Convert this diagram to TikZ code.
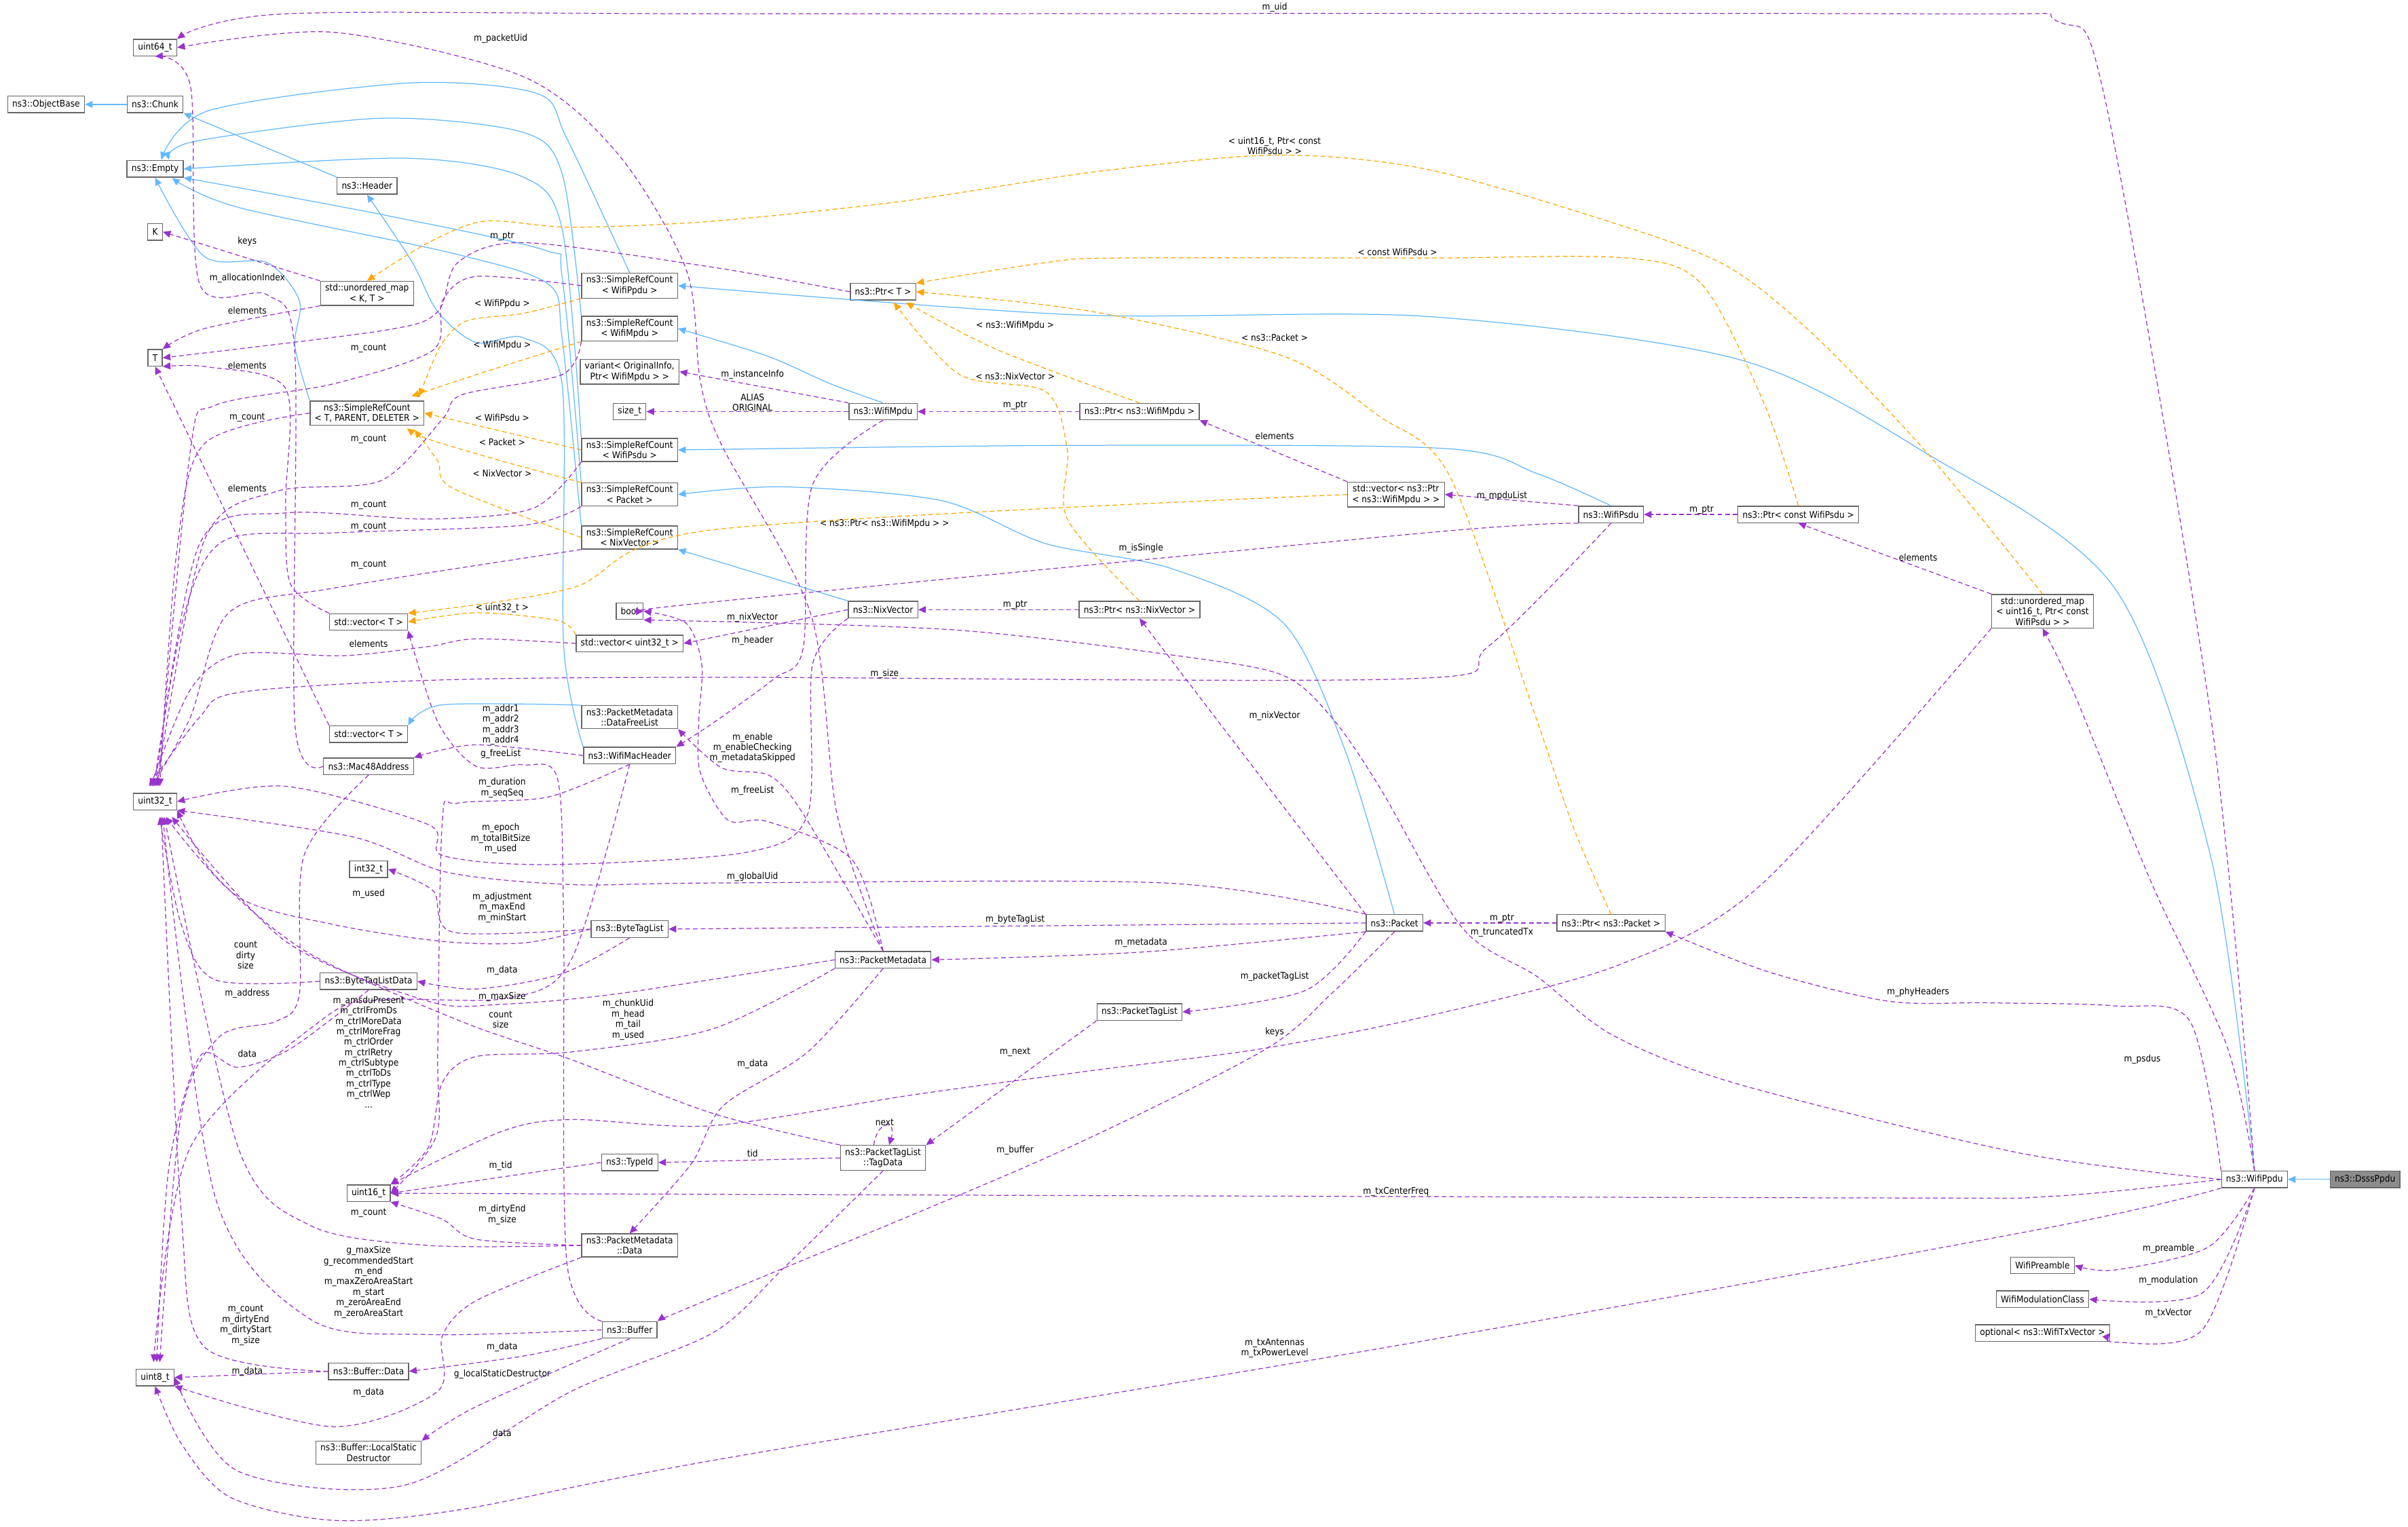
\documentclass[tikz,border=0pt]{standalone}
\usepackage{fontspec}
\setmainfont{DejaVu Sans Condensed}
\usetikzlibrary{arrows.meta}
\definecolor{purp}{HTML}{9A32CD}
\definecolor{inhb}{HTML}{63B8FF}
\definecolor{tplo}{HTML}{FFA500}
\tikzset{
 box/.style={draw=black!60,fill=white,line width=0.6pt,font=\fontsize{6}{6.8}\selectfont,align=center,inner xsep=3pt,inner ysep=1.8pt,minimum height=10.8pt},
 lbl/.style={font=\fontsize{6}{6.8}\selectfont,align=center,inner sep=0pt},
 tip/.style={-{Triangle[length=5pt,width=4.5pt]}},
 mem/.style={tip,draw=purp,dashed,dash pattern=on 3pt off 2pt,line width=0.55pt},
 tpl/.style={tip,draw=tplo,dashed,dash pattern=on 3pt off 2pt,line width=0.55pt},
 inh/.style={tip,draw=inhb,line width=0.55pt},
}
\begin{document}
\begin{tikzpicture}[x=1pt,y=-1pt]
\useasboundingbox (0,0) rectangle (1568,994);
% nodes
\node[box] (u64) at (101,31) {uint64\_t};
\node[box] (objb) at (30,68) {ns3::ObjectBase};
\node[box] (chunk) at (101,68) {ns3::Chunk};
\node[box] (empty) at (101,110) {ns3::Empty};
\node[box] (header) at (239,121) {ns3::Header};
\node[box] (K) at (101,151) {K};
\node[box] (umapkt) at (239,191) {std::unordered\_map\\< K, T >};
\node[box] (T) at (101,233) {T};
\node[box] (srct) at (239,269) {ns3::SimpleRefCount\\< T, PARENT, DELETER >};
\node[box] (srcppdu) at (410,186) {ns3::SimpleRefCount\\< WifiPpdu >};
\node[box] (srcmpdu) at (410,214) {ns3::SimpleRefCount\\< WifiMpdu >};
\node[box] (variant) at (410,242) {variant< OriginalInfo,\\Ptr< WifiMpdu > >};
\node[box] (sizet) at (410,268) {size\_t};
\node[box] (srcpsdu) at (410,293) {ns3::SimpleRefCount\\< WifiPsdu >};
\node[box] (srcpkt) at (410,322) {ns3::SimpleRefCount\\< Packet >};
\node[box] (srcnix) at (410,350) {ns3::SimpleRefCount\\< NixVector >};
\node[box] (bool) at (410,398) {bool};
\node[box] (vecup) at (240,405) {std::vector< T >};
\node[box] (vec32) at (410,419) {std::vector< uint32\_t >};
\node[box] (dfl) at (410,467) {ns3::PacketMetadata\\::DataFreeList};
\node[box] (veclo) at (240,478) {std::vector< T >};
\node[box] (mac) at (240,499) {ns3::Mac48Address};
\node[box] (wmac) at (410,492) {ns3::WifiMacHeader};
\node[box] (u32) at (101,522) {uint32\_t};
\node[box] (i32) at (240,566) {int32\_t};
\node[box] (btl) at (410,605) {ns3::ByteTagList};
\node[box] (btld) at (240,639) {ns3::ByteTagListData};
\node[box] (tid) at (410,757) {ns3::TypeId};
\node[box] (u16) at (240,777) {uint16\_t};
\node[box] (pmdata) at (410,811) {ns3::PacketMetadata\\::Data};
\node[box] (buf) at (410,866) {ns3::Buffer};
\node[box] (bdata) at (240,893) {ns3::Buffer::Data};
\node[box] (u8) at (101,897) {uint8\_t};
\node[box] (lsd) at (240,946) {ns3::Buffer::LocalStatic\\Destructor};
\node[box] (ptrt) at (575,190) {ns3::Ptr< T >};
\node[box] (wmpdu) at (575,268) {ns3::WifiMpdu};
\node[box] (ptrmpdu) at (742,268) {ns3::Ptr< ns3::WifiMpdu >};
\node[box] (vecptr) at (909,322) {std::vector< ns3::Ptr\\< ns3::WifiMpdu > >};
\node[box] (wpsdu) at (1049,335) {ns3::WifiPsdu};
\node[box] (ptrpsdu) at (1171,335) {ns3::Ptr< const WifiPsdu >};
\node[box] (umap16) at (1330,398) {std::unordered\_map\\< uint16\_t, Ptr< const\\WifiPsdu > >};
\node[box] (nix) at (575,397) {ns3::NixVector};
\node[box] (ptrnix) at (742,397) {ns3::Ptr< ns3::NixVector >};
\node[box] (pmeta) at (575,625) {ns3::PacketMetadata};
\node[box] (pkt) at (908,601) {ns3::Packet};
\node[box] (ptrpkt) at (1049,601) {ns3::Ptr< ns3::Packet >};
\node[box] (ptl) at (742,659) {ns3::PacketTagList};
\node[box] (tagd) at (575,754) {ns3::PacketTagList\\::TagData};
\node[box] (wppdu) at (1468,768) {ns3::WifiPpdu};
\node[box,fill=black!45] (dsss) at (1540,768) {ns3::DsssPpdu};
\node[box] (wpre) at (1330,824) {WifiPreamble};
\node[box] (wmod) at (1330,846) {WifiModulationClass};
\node[box] (wopt) at (1330,868) {optional< ns3::WifiTxVector >};
% inheritance
\draw[inh] (chunk) -- (objb);
\draw[inh] (header.north west) -- (chunk.south east);
\draw[inh] plot[smooth] coordinates {(srct.north west) (192,225) (195,196) (174,171) (133,167) (empty.south)};
\draw[inh] plot[smooth] coordinates {(srcppdu.north) (369,90) (350,61) (267,54) (136,72) (105,104)};
\draw[inh] plot[smooth] coordinates {(srcmpdu.north west) (366,113) (340,86) (248,77) (127,92) (110,104)};
\draw[inh] plot[smooth] coordinates {(srcpsdu.north west) (366,149) (340,115) (264,103) (empty.east)};
\draw[inh] plot[smooth] coordinates {(srcpkt.north west) (366,180) (355,163) (250,140) (empty.south east)};
\draw[inh] plot[smooth] coordinates {(srcnix.north west) (366,220) (357,185) (295,165) (155,135) (112,116)};
\draw[inh] plot[smooth] coordinates {(wmac.north west) (367,420) (366,250) (341,220) (310,223) (285,203) (268,170) (header.south)};
\draw[inh] plot[smooth] coordinates {(dfl.north west) (288,459) (veclo.north east)};
\draw[inh] plot[smooth] coordinates {(wppdu.north) (1440,560) (1377,383) (1254,295) (1132,234) (928,206) (700,205) (srcppdu.east)};
\draw[inh] plot[smooth] coordinates {(wmpdu.north) (541,250) (500,232) (srcmpdu.east)};
\draw[inh] plot[smooth] coordinates {(wpsdu.north) (1000,308) (940,292) (700,290) (srcpsdu.east)};
\draw[inh] plot[smooth] coordinates {(pkt.north) (876,489) (836,406) (762,370) (681,354) (613,326) (510,317) (srcpkt.east)};
\draw[inh] (nix.north west) -- (srcnix.south east);
\draw[inh] (dsss) -- (wppdu);
% templates
\draw[tpl] plot[smooth] coordinates {(srcppdu.south west) (341,204) (304,209) (287,225) (273,258)};
\draw[tpl] plot[smooth] coordinates {(srcmpdu.south west) (310,244) (268,258)};
\draw[tpl] plot[smooth] coordinates {(srcpsdu.west) (srct.east)};
\draw[tpl] plot[smooth] coordinates {(srcpkt.north west) (326,300) (279,286) (265,279)};
\draw[tpl] plot[smooth] coordinates {(srcnix.west) (295,318) (285,300) (270,280)};
\draw[tpl] plot[smooth] coordinates {(ptrpsdu.north) (1148,261) (1108,185) (1059,168) (928,168) (728,168) (681,171) (ptrt.north east)};
\draw[tpl] plot[smooth] coordinates {(ptrmpdu.north) (650,228) (590,197)};
\draw[tpl] plot[smooth] coordinates {(ptrnix.north) (695,338) (695,293) (681,255) (625,244) (582,197)};
\draw[tpl] plot[smooth] coordinates {(ptrpkt.north) (1025,540) (999,464) (944,310) (898,271) (836,232) (712,203) (ptrt.east)};
\draw[tpl] plot[smooth] coordinates {(umap16.north) (1254,294) (1181,218) (1124,173) (1050,145) (928,110) (830,101) (712,112) (588,131) (464,144) (372,148) (316,144) (279,158) (umapkt.north)};
\draw[tpl] plot[smooth] coordinates {(vecptr.west) (464,345) (372,383) (vecup.north east)};
\draw[tpl] plot[smooth] coordinates {(vec32.north west) (363,404) (310,399) (vecup.east)};
% members
\draw[mem] plot[smooth] coordinates {(wppdu.north) (1440,470) (1371,66) (1340,14) (1250,9) (486,9) (186,9) (u64.north east)};
\draw[mem] plot[smooth] coordinates {(pmeta.north) (545,530) (528,400) (470,290) (456,248) (447,176) (403,101) (341,50) (217,21) (u64.east)};
\draw[mem] plot[smooth] coordinates {(mac.west) (192,471) (192,230) (174,192) (130,185) (124,56) (u64.south)};
\draw[mem] (umapkt.north west) -- (K.east);
\draw[mem] plot[smooth] coordinates {(umapkt.south west) (133,214) (T.north east)};
\draw[mem] plot[smooth] coordinates {(ptrt.west) (464,174) (341,158) (298,171) (285,203) (251,215) (T.east)};
\draw[mem] plot[smooth] coordinates {(vecup.north west) (189,380) (186,327) (186,253) (136,239) (T.south east)};
\draw[mem] (veclo.north west) -- (T.south);
\draw[mem] plot[smooth] coordinates {(srct.west) (133,289) (115,360) (104,512)};
\draw[mem] plot[smooth] coordinates {(srcppdu.west) (310,180) (288,196) (282,228) (217,250) (140,264) (124,293) (103,512)};
\draw[mem] plot[smooth] coordinates {(srcmpdu.south west) (366,244) (301,257) (288,273) (248,313) (180,320) (133,352) (102,512)};
\draw[mem] plot[smooth] coordinates {(srcpsdu.south west) (347,331) (279,338) (186,334) (130,354) (101,512)};
\draw[mem] plot[smooth] coordinates {(srcpkt.south west) (341,342) (217,347) (146,352) (120,400) (100,512)};
\draw[mem] plot[smooth] coordinates {(srcnix.south west) (217,383) (149,399) (124,467) (99,512)};
\draw[mem] plot[smooth] coordinates {(vec32.west) (310,416) (279,421) (223,427) (155,426) (124,449) (98,512)};
\draw[mem] plot[smooth] coordinates {(wpsdu.south) (969,421) (917,442) (464,441) (279,443) (155,451) (130,467) (97,512)};
\draw[mem] plot[smooth] coordinates {(nix.south west) (529,433) (526,530) (486,555) (357,563) (288,557) (279,537) (186,512) (u32.east)};
\draw[mem] plot[smooth] coordinates {(pkt.north west) (759,575) (464,575) (372,576) (291,568) (230,545) (u32.south east)};
\draw[mem] plot[smooth] coordinates {(btl.west) (341,614) (288,613) (217,602) (155,584) (108,532)};
\draw[mem] plot[smooth] coordinates {(btl.west) (295,607) (282,580) (i32.east)};
\draw[mem] plot[smooth] coordinates {(btl.south) (366,634) (310,644) (btld.east)};
\draw[mem] plot[smooth] coordinates {(btld.west) (140,638) (118,602) (104,532)};
\draw[mem] plot[smooth] coordinates {(mac.south) (198,557) (195,647) (180,665) (143,675) (118,726) (104,887)};
\draw[mem] plot[smooth] coordinates {(btld.south) (189,683) (155,695) (130,688) (110,760) (102,887)};
\draw[mem] plot[smooth] coordinates {(wmac.west) (310,485) (mac.north east)};
\draw[mem] plot[smooth] coordinates {(wmac.south) (357,519) (298,523) (288,535) (285,685) (284,740) (u16.east)};
\draw[mem] plot[smooth] coordinates {(wmac.south) (372,625) (330,650) (250,651) (211,663) (124,747) (100,887)};
\draw[mem] plot[smooth] coordinates {(buf.north west) (369,821) (367,600) (363,507) (341,498) (310,499) (285,470) (vecup.south east)};
\draw[mem] plot[smooth] coordinates {(pmeta.north) (523,530) (501,505) (470,500) (dfl.south east)};
\draw[mem] plot[smooth] coordinates {(pmeta.north) (555,560) (500,535) (474,534) (456,503) (455,470) (457,433) (447,406) (bool.east)};
\draw[mem] plot[smooth] coordinates {(wmpdu.south) (529,316) (523,422) (504,442) (464,471) (wmac.north east)};
\draw[mem] (wmpdu.north west) -- (variant.east);
\draw[mem] (wmpdu.west) -- (sizet.east);
\draw[mem] (ptrmpdu) -- (wmpdu);
\draw[mem] (vecptr.north west) -- (ptrmpdu.south east);
\draw[mem] (wpsdu.north west) -- (vecptr.east);
\draw[mem] plot[smooth] coordinates {(wpsdu.south west) (928,347) (464,392) (bool.east)};
\draw[mem] (ptrpsdu) -- (wpsdu);
\draw[mem] (umap16.north west) -- (ptrpsdu.south);
\draw[mem] plot[smooth] coordinates {(umap16.south west) (1148,575) (1055,628) (928,662) (821,683) (712,697) (594,713) (464,733) (372,729) (326,737) (u16.north east)};
\draw[mem] plot[smooth] coordinates {(wppdu.north) (1450,681) (1401,575) (1350,450) (umap16.south)};
\draw[mem] (nix.west) -- (vec32.east);
\draw[mem] (ptrnix) -- (nix);
\draw[mem] (pkt.north west) -- (ptrnix.south);
\draw[mem] (pkt.west) -- (btl.east);
\draw[mem] plot[smooth] coordinates {(pkt.south west) (743,620) (pmeta.east)};
\draw[mem] plot[smooth] coordinates {(pkt.south west) (850,645) (ptl.east)};
\draw[mem] plot[smooth] coordinates {(pkt.south) (867,647) (821,685) (681,754) (464,845) (buf.north east)};
\draw[mem] (ptrpkt) -- (pkt);
\draw[mem] plot[smooth] coordinates {(wppdu.north west) (1426,665) (1377,655) (1295,653) (1230,652) (1152,633) (ptrpkt.south east)};
\draw[mem] plot[smooth] coordinates {(wppdu.west) (1316,751) (1132,706) (1050,674) (1001,636) (952,604) (898,512) (867,467) (836,440) (774,428) (619,410) (bool.south east)};
\draw[mem] plot[smooth] coordinates {(wppdu.west) (1336,779) (1200,780) (u16.east)};
\draw[mem] plot[smooth] coordinates {(wppdu.south west) (1336,799) (928,873) (464,951) (300,983) (217,990) (150,975) (118,940) (u8.south)};
\draw[mem] plot[smooth] coordinates {(wppdu.south) (1438,812) (1377,827) (wpre.east)};
\draw[mem] plot[smooth] coordinates {(wppdu.south) (1434,842) (wmod.east)};
\draw[mem] plot[smooth] coordinates {(wppdu.south) (1434,866) (1377,874) (wopt.east)};
\draw[mem] (ptl.south west) -- (tagd.north east);
\draw[mem] ([xshift=-6pt]tagd.north) .. controls (571,730) and (584,728) .. ([xshift=4pt]tagd.north);
\draw[mem] (tagd.west) -- (tid.east);
\draw[mem] plot[smooth] coordinates {(tagd.north west) (464,725) (372,690) (300,665) (200,620) (140,570) (u32.south east)};
\draw[mem] plot[smooth] coordinates {(tagd.south) (510,826) (464,868) (372,906) (264,967) (155,958) (u8.east)};
\draw[mem] (tid.west) -- (u16.east);
\draw[mem] plot[smooth] coordinates {(pmeta.west) (403,647) (326,654) (279,652) (186,613) (112,532)};
\draw[mem] plot[smooth] coordinates {(pmeta.south west) (464,670) (372,685) (310,688) (288,705) (279,747) (u16.north east)};
\draw[mem] plot[smooth] coordinates {(pmeta.south) (526,685) (471,720) (450,758) (pmdata.north)};
\draw[mem] plot[smooth] coordinates {(pmdata.west) (310,807) (288,794) (u16.south east)};
\draw[mem] plot[smooth] coordinates {(pmdata.west) (279,811) (202,798) (155,747) (107,532)};
\draw[mem] plot[smooth] coordinates {(pmdata.south west) (310,847) (288,870) (285,906) (217,929) (u8.south east)};
\draw[mem] plot[smooth] coordinates {(buf.west) (279,869) (202,859) (140,779) (106,532)};
\draw[mem] plot[smooth] coordinates {(buf.south west) (341,883) (bdata.east)};
\draw[mem] plot[smooth] coordinates {(buf.south) (310,916) (lsd.north east)};
\draw[mem] plot[smooth] coordinates {(bdata.west) (133,877) (118,790) (105,532)};
\draw[mem] (bdata.west) -- (u8.east);
% labels
\node[lbl] (l1) at (830,5) {m\_uid};
\node[lbl] (l2) at (326,25) {m\_packetUid};
\node[lbl] (l3) at (161,157) {keys};
\node[lbl] (l4) at (161,181) {m\_allocationIndex};
\node[lbl] (l5) at (161,202) {elements};
\node[lbl] (l6) at (327,154) {m\_ptr};
\node[lbl] (l7) at (327,198) {< WifiPpdu >};
\node[lbl] (l8) at (240,227) {m\_count};
\node[lbl] (l9) at (327,225) {< WifiMpdu >};
\node[lbl] (l10) at (161,238) {elements};
\node[lbl] (l11) at (161,272) {m\_count};
\node[lbl] (l12) at (327,272) {< WifiPsdu >};
\node[lbl] (l13) at (240,286) {m\_count};
\node[lbl] (l14) at (327,288) {< Packet >};
\node[lbl] (l15) at (327,308) {< NixVector >};
\node[lbl] (l16) at (161,318) {elements};
\node[lbl] (l17) at (240,329) {m\_count};
\node[lbl] (l18) at (240,343) {m\_count};
\node[lbl] (l19) at (240,368) {m\_count};
\node[lbl] (l20) at (327,396) {< uint32\_t >};
\node[lbl] (l21) at (240,419) {elements};
\node[lbl] (l22) at (326,472) {m\_addr1\\m\_addr2\\m\_addr3\\m\_addr4};
\node[lbl] (l23) at (326,491) {g\_freeList};
\node[lbl] (l24) at (327,513) {m\_duration\\m\_seqSeq};
\node[lbl] (l25) at (326,546) {m\_epoch\\m\_totalBitSize\\m\_used};
\node[lbl] (l26) at (240,582) {m\_used};
\node[lbl] (l27) at (327,591) {m\_adjustment\\m\_maxEnd\\m\_minStart};
\node[lbl] (l28) at (160,622) {count\\dirty\\size};
\node[lbl] (l29) at (327,632) {m\_data};
\node[lbl] (l30) at (161,647) {m\_address};
\node[lbl] (l31) at (327,649) {m\_maxSize};
\node[lbl] (l32) at (240,685) {m\_amsduPresent\\m\_ctrlFromDs\\m\_ctrlMoreData\\m\_ctrlMoreFrag\\m\_ctrlOrder\\m\_ctrlRetry\\m\_ctrlSubtype\\m\_ctrlToDs\\m\_ctrlType\\m\_ctrlWep\\...};
\node[lbl] (l33) at (326,664) {count\\size};
\node[lbl] (l34) at (409,664) {m\_chunkUid\\m\_head\\m\_tail\\m\_used};
\node[lbl] (l35) at (161,686) {data};
\node[lbl] (l36) at (326,759) {m\_tid};
\node[lbl] (l37) at (240,790) {m\_count};
\node[lbl] (l38) at (327,791) {m\_dirtyEnd\\m\_size};
\node[lbl] (l39) at (240,835) {g\_maxSize\\g\_recommendedStart\\m\_end\\m\_maxZeroAreaStart\\m\_start\\m\_zeroAreaEnd\\m\_zeroAreaStart};
\node[lbl] (l40) at (160,863) {m\_count\\m\_dirtyEnd\\m\_dirtyStart\\m\_size};
\node[lbl] (l41) at (161,893) {m\_data};
\node[lbl] (l42) at (327,877) {m\_data};
\node[lbl] (l43) at (327,895) {g\_localStaticDestructor};
\node[lbl] (l44) at (240,907) {m\_data};
\node[lbl] (l45) at (327,933) {data};
\node[lbl] (l46) at (830,95) {< uint16\_t, Ptr< const\\WifiPsdu > >};
\node[lbl] (l47) at (910,164) {< const WifiPsdu >};
\node[lbl] (l48) at (661,212) {< ns3::WifiMpdu >};
\node[lbl] (l49) at (830,220) {< ns3::Packet >};
\node[lbl] (l50) at (490,244) {m\_instanceInfo};
\node[lbl] (l51) at (490,262) {ALIAS\\ORIGINAL};
\node[lbl] (l52) at (661,245) {< ns3::NixVector >};
\node[lbl] (l53) at (661,264) {m\_ptr};
\node[lbl] (l54) at (830,284) {elements};
\node[lbl] (l55) at (576,341) {< ns3::Ptr< ns3::WifiMpdu > >};
\node[lbl] (l56) at (743,357) {m\_isSingle};
\node[lbl] (l57) at (661,394) {m\_ptr};
\node[lbl] (l58) at (490,402) {m\_nixVector};
\node[lbl] (l59) at (490,417) {m\_header};
\node[lbl] (l60) at (576,439) {m\_size};
\node[lbl] (l61) at (830,466) {m\_nixVector};
\node[lbl] (l62) at (490,487) {m\_enable\\m\_enableChecking\\m\_metadataSkipped};
\node[lbl] (l63) at (490,515) {m\_freeList};
\node[lbl] (l64) at (490,571) {m\_globalUid};
\node[lbl] (l65) at (661,599) {m\_byteTagList};
\node[lbl] (l66) at (743,614) {m\_metadata};
\node[lbl] (l67) at (830,636) {m\_packetTagList};
\node[lbl] (l68) at (830,672) {keys};
\node[lbl] (l69) at (661,685) {m\_next};
\node[lbl] (l70) at (490,693) {m\_data};
\node[lbl] (l71) at (576,731) {next};
\node[lbl] (l72) at (490,751) {tid};
\node[lbl] (l73) at (661,749) {m\_buffer};
\node[lbl] (l74) at (909,776) {m\_txCenterFreq};
\node[lbl] (l75) at (830,878) {m\_txAntennas\\m\_txPowerLevel};
\node[lbl] (l76) at (978,323) {m\_mpduList};
\node[lbl] (l77) at (1108,332) {m\_ptr};
\node[lbl] (l78) at (1249,363) {elements};
\node[lbl] (l79) at (978,598) {m\_ptr};
\node[lbl] (l80) at (978,607) {m\_truncatedTx};
\node[lbl] (l81) at (1249,646) {m\_phyHeaders};
\node[lbl] (l82) at (1412,813) {m\_preamble};
\node[lbl] (l83) at (1412,834) {m\_modulation};
\node[lbl] (l84) at (1412,855) {m\_txVector};
\node[lbl] (l85) at (1395,690) {m\_psdus};
\end{tikzpicture}
\end{document}
